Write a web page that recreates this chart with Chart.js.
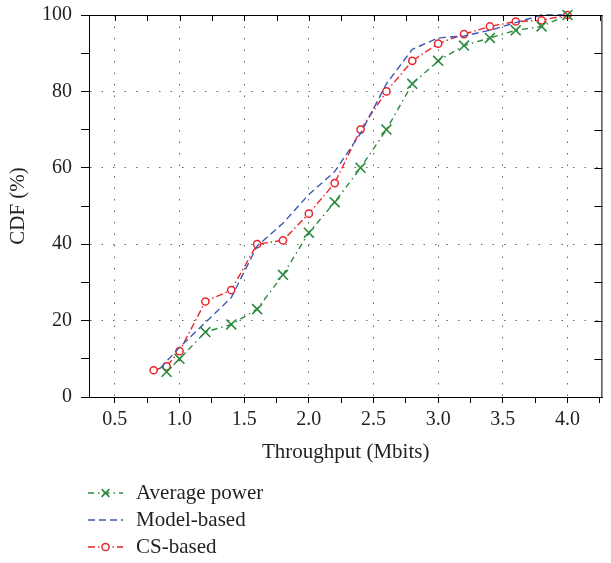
<!DOCTYPE html>
<html><head><meta charset="utf-8">
<script src="https://cdn.jsdelivr.net/npm/chart.js@4/dist/chart.umd.min.js"></script>
<style>html,body{margin:0;padding:0;background:#fff}#wrap{width:611px;height:563px}</style>
</head><body><div id="wrap"><canvas id="c" width="611" height="563"></canvas></div>
<script>
// ---- data ----
const seriesNames = ['Average power', 'Model-based', 'CS-based'];
const avgX = [0.9, 1.0, 1.2, 1.4, 1.6, 1.8, 2.0, 2.2, 2.4, 2.6, 2.8, 3.0, 3.2, 3.4, 3.6, 3.8, 4.0];
const avgY = [6.6, 10, 17, 19, 23, 32, 43, 51, 60, 70, 82, 88, 92, 94, 96, 97, 100];
const modelX = [0.85, 1.0, 1.2, 1.4, 1.6, 1.8, 2.0, 2.2, 2.4, 2.6, 2.8, 3.0, 3.2, 3.4, 3.6, 3.8, 4.0];
const modelY = [7.5, 13, 19.5, 26, 39.5, 45.5, 53, 59, 69, 82, 91, 94, 94.5, 96, 98, 100, 100];
const csX = [0.8, 0.9, 1.0, 1.2, 1.4, 1.6, 1.8, 2.0, 2.2, 2.4, 2.6, 2.8, 3.0, 3.2, 3.4, 3.6, 3.8, 4.0];
const csY = [7, 8, 12, 25, 28, 40, 41, 48, 56, 70, 80, 88, 92.5, 95, 97, 98.3, 98.6, 100];
const xMajorTicks = [0.5, 1.0, 1.5, 2.0, 2.5, 3.0, 3.5, 4.0];
const xTickLabels = ['0.5', '1.0', '1.5', '2.0', '2.5', '3.0', '3.5', '4.0'];
const xMinorTicks = [0.75, 1.25, 1.75, 2.25, 2.75, 3.25, 3.75, 4.25];
const yMajorTicks = [0, 20, 40, 60, 80, 100];
const yTickLabels = ['0', '20', '40', '60', '80', '100'];
const yMinorTicks = [10, 30, 50, 70, 90];
const xTitle = 'Throughput (Mbits)';
const yTitle = 'CDF (%)';

// ---- styles ----
const FONT = 'Liberation Serif';
const TXT = '#231f20';
const GREEN = '#2b8a3e', BLUE = '#3e58b2', RED = '#e8262b';

const pts = (xs, ys) => xs.map((x, i) => ({x: x, y: ys[i]}));

const datasets = [
  {label: seriesNames[0], data: pts(avgX, avgY), borderColor: GREEN, backgroundColor: GREEN,
   borderWidth: 1.4, borderDash: [6, 4, 1.5, 4], pointStyle: 'crossRot', pointRadius: 7,
   pointBorderWidth: 1.6, pointBorderColor: GREEN, pointBackgroundColor: GREEN},
  {label: seriesNames[1], data: pts(modelX, modelY), borderColor: BLUE, backgroundColor: BLUE,
   borderWidth: 1.4, borderDash: [7, 4], pointRadius: 0},
  {label: seriesNames[2], data: pts(csX, csY), borderColor: RED, backgroundColor: RED,
   borderWidth: 1.4, borderDash: [7, 3, 1.5, 3], pointStyle: 'circle', pointRadius: 3.6,
   pointBorderWidth: 1.5, pointBorderColor: RED, pointBackgroundColor: '#fff'}
];
datasets.forEach(d => { d.fill = false; d.tension = 0; d.clip = false; });

const isMajor = (arr, v) => arr.some(m => Math.abs(m - v) < 1e-9);

const frameTicks = {
  id: 'frameTicks',
  afterDraw(chart) {
    const {ctx, chartArea: a, scales} = chart;
    ctx.save();
    ctx.strokeStyle = '#000';
    ctx.lineWidth = 1;
    ctx.setLineDash([]);
    ctx.beginPath();
    ctx.moveTo(a.left, a.top + 0.5); ctx.lineTo(a.right, a.top + 0.5);
    ctx.moveTo(a.right - 0.5, a.top); ctx.lineTo(a.right - 0.5, a.bottom);
    scales.x.ticks.forEach(t => {
      const px = Math.round(scales.x.getPixelForValue(t.value)) + 0.5;
      ctx.moveTo(px, a.top); ctx.lineTo(px, a.top + 6);
    });
    scales.y.ticks.forEach(t => {
      const py = Math.round(scales.y.getPixelForValue(t.value)) + 0.5;
      ctx.moveTo(a.right, py); ctx.lineTo(a.right - 8, py);
    });
    ctx.stroke();
    ctx.restore();
  }
};

const customLegend = {
  id: 'customLegend',
  afterDraw(chart) {
    const {ctx} = chart;
    const x0 = 88, x1 = 123, tx = 136, y0 = 493, dy = 27;
    ctx.save();
    chart.data.datasets.forEach((d, i) => {
      const y = y0 + i * dy;
      ctx.strokeStyle = d.borderColor;
      ctx.lineWidth = d.borderWidth;
      ctx.setLineDash(d.borderDash || []);
      ctx.beginPath(); ctx.moveTo(x0, y); ctx.lineTo(x1, y); ctx.stroke();
      ctx.setLineDash([]);
      if (d.pointRadius > 0) {
        ctx.strokeStyle = d.pointBorderColor;
        ctx.fillStyle = d.pointBackgroundColor;
        ctx.lineWidth = d.pointBorderWidth;
        Chart.helpers.drawPoint(ctx, {pointStyle: d.pointStyle, radius: d.pointStyle === 'circle' ? d.pointRadius : 5.5,
          rotation: 0, borderWidth: d.pointBorderWidth}, (x0 + x1) / 2, y);
      }
      ctx.fillStyle = TXT;
      ctx.font = '21px "' + FONT + '"';
      ctx.textBaseline = 'middle';
      ctx.textAlign = 'left';
      ctx.fillText(d.label, tx, y);
    });
    ctx.restore();
  }
};

new Chart(document.getElementById('c'), {
  type: 'line',
  data: {datasets: datasets},
  options: {
    responsive: false, animation: false, devicePixelRatio: 1,
    layout: {padding: {top: 15, right: 5, bottom: 96, left: 0}},
    plugins: {legend: {display: false}, tooltip: {enabled: false}},
    scales: {
      x: {
        type: 'linear', min: 0.3, max: 4.27,
        afterBuildTicks: s => { s.ticks = xMajorTicks.concat(xMinorTicks).sort((a, b) => a - b).map(v => ({value: v})); },
        afterFit: s => { s.height = 70; s.paddingLeft = 0; s.paddingRight = 0; },
        ticks: {autoSkip: false, maxRotation: 0, padding: 5, color: TXT,
          font: {family: FONT, size: 20},
          callback: v => { const k = xMajorTicks.findIndex(m => Math.abs(m - v) < 1e-9); return k >= 0 ? xTickLabels[k] : ''; }},
        grid: {color: c => isMajor(xMajorTicks, c.tick ? c.tick.value : NaN) ? 'rgba(0,0,0,0.6)' : 'rgba(0,0,0,0)',
          tickColor: '#000', tickLength: 6, tickBorderDash: [], lineWidth: 1},
        border: {display: true, color: '#000', width: 1, dash: [1.5, 10]},
        title: {display: true, text: xTitle, color: TXT, font: {family: FONT, size: 21}, padding: {top: 0, bottom: 2}}
      },
      y: {
        type: 'linear', min: 0, max: 100,
        afterBuildTicks: s => { s.ticks = yMajorTicks.concat(yMinorTicks).sort((a, b) => a - b).map(v => ({value: v})); },
        afterFit: s => { s.width = 89; s.paddingTop = 0; s.paddingBottom = 0; },
        ticks: {autoSkip: false, padding: 9, color: TXT, font: {family: FONT, size: 20},
          callback: v => { const k = yMajorTicks.findIndex(m => Math.abs(m - v) < 1e-9); return k >= 0 ? yTickLabels[k] : ''; }},
        grid: {color: c => isMajor(yMajorTicks, c.tick ? c.tick.value : NaN) ? 'rgba(0,0,0,0.6)' : 'rgba(0,0,0,0)',
          tickColor: '#000', tickLength: 8, tickBorderDash: [], lineWidth: 1},
        border: {display: true, color: '#000', width: 1, dash: [1.5, 10]},
        title: {display: true, text: yTitle, color: TXT, font: {family: FONT, size: 21}, padding: {top: 6, bottom: 0}}
      }
    }
  },
  plugins: [frameTicks, customLegend]
});
</script>
</body></html>
